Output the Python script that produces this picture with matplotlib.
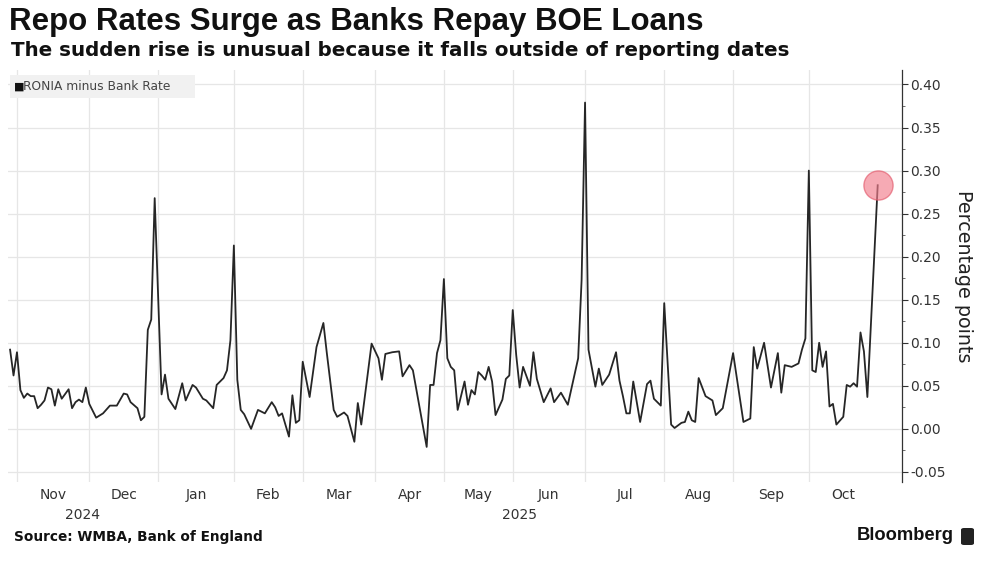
import numpy as np
import matplotlib
matplotlib.use("Agg")
import matplotlib.pyplot as plt
import matplotlib.transforms as mtransforms
from matplotlib.patches import FancyBboxPatch

# RONIA minus Bank Rate (percentage points), London business days
dates = [
    "2024-10-30", "2024-10-31",
    "2024-11-01", "2024-11-04", "2024-11-05", "2024-11-06", "2024-11-07", "2024-11-08",
    "2024-11-11", "2024-11-12", "2024-11-13", "2024-11-14", "2024-11-15", "2024-11-18",
    "2024-11-19", "2024-11-20", "2024-11-22", "2024-11-25", "2024-11-26", "2024-11-27",
    "2024-11-28", "2024-11-29",
    "2024-12-02", "2024-12-04", "2024-12-06", "2024-12-10", "2024-12-12", "2024-12-16",
    "2024-12-17", "2024-12-18", "2024-12-20", "2024-12-23", "2024-12-24", "2024-12-27",
    "2024-12-30", "2024-12-31",
    "2025-01-03", "2025-01-06", "2025-01-07", "2025-01-09", "2025-01-13", "2025-01-14",
    "2025-01-16", "2025-01-17", "2025-01-21", "2025-01-22", "2025-01-24", "2025-01-27",
    "2025-01-29", "2025-01-30", "2025-01-31",
    "2025-02-03", "2025-02-04", "2025-02-05", "2025-02-06", "2025-02-10", "2025-02-12",
    "2025-02-14", "2025-02-18", "2025-02-19", "2025-02-20", "2025-02-21", "2025-02-25",
    "2025-02-26", "2025-02-27", "2025-02-28",
    "2025-03-03", "2025-03-05", "2025-03-07", "2025-03-11", "2025-03-12", "2025-03-14",
    "2025-03-17", "2025-03-19", "2025-03-20", "2025-03-24", "2025-03-25", "2025-03-26",
    "2025-03-31",
    "2025-04-02", "2025-04-03", "2025-04-04", "2025-04-08", "2025-04-10", "2025-04-11",
    "2025-04-15", "2025-04-16", "2025-04-24", "2025-04-25", "2025-04-28", "2025-04-29",
    "2025-04-30",
    "2025-05-01", "2025-05-02", "2025-05-06", "2025-05-07", "2025-05-08", "2025-05-12",
    "2025-05-13", "2025-05-14", "2025-05-15", "2025-05-16", "2025-05-19", "2025-05-20",
    "2025-05-21", "2025-05-22", "2025-05-23", "2025-05-28", "2025-05-29", "2025-05-30",
    "2025-06-02", "2025-06-03", "2025-06-04", "2025-06-05", "2025-06-09", "2025-06-10",
    "2025-06-11", "2025-06-13", "2025-06-17", "2025-06-18", "2025-06-20", "2025-06-24",
    "2025-06-27", "2025-06-30",
    "2025-07-01", "2025-07-02", "2025-07-04", "2025-07-07", "2025-07-08", "2025-07-10",
    "2025-07-14", "2025-07-15", "2025-07-16", "2025-07-17", "2025-07-18", "2025-07-21",
    "2025-07-23", "2025-07-25", "2025-07-28", "2025-07-29", "2025-07-31",
    "2025-08-01", "2025-08-05", "2025-08-06", "2025-08-08", "2025-08-11", "2025-08-12",
    "2025-08-13", "2025-08-14", "2025-08-15", "2025-08-19", "2025-08-21", "2025-08-22",
    "2025-08-27",
    "2025-09-01", "2025-09-04", "2025-09-08", "2025-09-09", "2025-09-10", "2025-09-12",
    "2025-09-16", "2025-09-18", "2025-09-19", "2025-09-22", "2025-09-24", "2025-09-26",
    "2025-09-29", "2025-09-30",
    "2025-10-01", "2025-10-02", "2025-10-03", "2025-10-06", "2025-10-07", "2025-10-08",
    "2025-10-09", "2025-10-10", "2025-10-13", "2025-10-15", "2025-10-16", "2025-10-17",
    "2025-10-20", "2025-10-21", "2025-10-22", "2025-10-23", "2025-10-24", "2025-10-29",
]
spread = [
    0.092, 0.062,
    0.089, 0.045, 0.036, 0.041, 0.038, 0.038,
    0.024, 0.028, 0.033, 0.048, 0.046, 0.027,
    0.046, 0.035, 0.046, 0.024, 0.031, 0.034,
    0.031, 0.048,
    0.029, 0.013, 0.018, 0.027, 0.027, 0.041,
    0.040, 0.031, 0.024, 0.010, 0.014, 0.115,
    0.127, 0.268,
    0.040, 0.063, 0.035, 0.023, 0.053, 0.033,
    0.051, 0.048, 0.035, 0.033, 0.024, 0.051,
    0.059, 0.068, 0.103,
    0.213, 0.057, 0.022, 0.017, 0.000, 0.022,
    0.018, 0.031, 0.025, 0.015, 0.018, -0.009,
    0.039, 0.007, 0.010,
    0.078, 0.037, 0.095, 0.123, 0.088, 0.022,
    0.014, 0.019, 0.015, -0.015, 0.030, 0.005,
    0.099,
    0.082, 0.057, 0.087, 0.089, 0.090, 0.061,
    0.074, 0.068, -0.021, 0.051, 0.051, 0.088,
    0.103,
    0.174, 0.082, 0.072, 0.068, 0.022, 0.055,
    0.028, 0.045, 0.040, 0.066, 0.062, 0.057,
    0.072, 0.055, 0.016, 0.034, 0.058, 0.062,
    0.138, 0.086, 0.048, 0.072, 0.050, 0.089,
    0.058, 0.031, 0.047, 0.031, 0.042, 0.028,
    0.082, 0.173,
    0.379, 0.092, 0.049, 0.070, 0.051, 0.063,
    0.089, 0.056, 0.038, 0.018, 0.018, 0.055,
    0.008, 0.052, 0.056, 0.035, 0.027,
    0.146, 0.005, 0.001, 0.007, 0.008, 0.020,
    0.010, 0.008, 0.059, 0.038, 0.033, 0.016,
    0.024,
    0.088, 0.008, 0.012, 0.095, 0.070, 0.100,
    0.048, 0.088, 0.042, 0.074, 0.072, 0.076,
    0.092, 0.105,
    0.300, 0.068, 0.066, 0.100, 0.072, 0.090,
    0.026, 0.029, 0.005, 0.014, 0.051, 0.049,
    0.053, 0.049, 0.112, 0.090, 0.037, 0.283,
]
assert len(dates) == len(spread)

uk_holidays = ["2024-12-25", "2024-12-26", "2025-01-01", "2025-04-18", "2025-04-21",
               "2025-05-05", "2025-05-26", "2025-08-25"]
month_starts = ["2024-11-01", "2024-12-01", "2025-01-01", "2025-02-01", "2025-03-01",
                "2025-04-01", "2025-05-01", "2025-06-01", "2025-07-01", "2025-08-01",
                "2025-09-01", "2025-10-01"]
month_labels = ["Nov", "Dec", "Jan", "Feb", "Mar", "Apr", "May", "Jun",
                "Jul", "Aug", "Sep", "Oct"]
y_ticks = [-0.05, 0.0, 0.05, 0.10, 0.15, 0.20, 0.25, 0.30, 0.35, 0.40]

# business-day axis, like the terminal chart
origin = dates[0]
x = np.busday_count(origin, np.array(dates, dtype="datetime64[D]"), holidays=uk_holidays)
grid_x = np.busday_count(origin, np.array(month_starts, dtype="datetime64[D]"),
                         holidays=uk_holidays)
month_ends = np.append(grid_x[1:], x[-1])
label_x = (grid_x + month_ends) / 2

fig = plt.figure(figsize=(10.02, 5.68), dpi=100)
ax = fig.add_axes([0.008, 0.151, 0.892, 0.726])

for g in grid_x:
    ax.axvline(g, color="#e6e6e6", lw=0.9, zorder=0)
for t in y_ticks:
    ax.axhline(t, color="#e6e6e6", lw=0.9, zorder=0)

ax.plot(x, spread, color="#262626", lw=1.3, zorder=3)
ax.plot(x[-1], spread[-1], "o", ms=21, mfc="#f27d8c", mec="#e35a6c",
        mew=1.0, alpha=0.65, zorder=4)

ax.set_xlim(-0.6, 259)
ax.set_ylim(-0.062, 0.417)

# right y axis
ax.yaxis.tick_right()
ax.yaxis.set_label_position("right")
ax.set_yticks(y_ticks)
ax.set_yticks(np.arange(-0.05, 0.41, 0.025), minor=True)
ax.set_yticklabels([f"{t:.2f}" for t in y_ticks])
ax.tick_params(axis="y", which="major", length=4, width=0.8, colors="#333333",
               labelsize=10, pad=2)
ax.tick_params(axis="y", which="minor", length=2.5, width=0.6, colors="#555555")
ax.set_ylabel("Percentage points", rotation=270, fontsize=13.8,
              color="#222222", labelpad=20)

# month labels centred in each month
ax.set_xticks([])
ax.set_xticks(label_x, minor=True)
ax.set_xticklabels(month_labels, minor=True)
ax.tick_params(axis="x", which="minor", length=0, labelsize=10,
               colors="#333333", pad=4)

trans = mtransforms.blended_transform_factory(ax.transData, ax.transAxes)
years = np.array([d[:4] for d in dates])
for yr in ["2024", "2025"]:
    xs = x[years == yr]
    ax.text((xs[0] + xs[-1]) / 2, -0.063, yr, transform=trans,
            ha="center", va="top", fontsize=10, color="#333333")

for side in ["left", "top", "bottom"]:
    ax.spines[side].set_visible(False)
ax.spines["right"].set_color("#333333")
ax.spines["right"].set_linewidth(0.9)

# legend box
box = FancyBboxPatch((10 / 1002, 1 - 98 / 568), 185 / 1002, 23 / 568,
                     boxstyle="square,pad=0", transform=fig.transFigure,
                     facecolor="#f1f1f1", edgecolor="none", zorder=5)
fig.patches.append(box)
fig.text(14 / 1002, 1 - 87 / 568, "\u25a0", fontsize=8, color="#111111",
         va="center", ha="left", zorder=6)
fig.text(23 / 1002, 1 - 87 / 568, "RONIA minus Bank Rate", fontsize=8.8,
         color="#444444", va="center", ha="left", zorder=6)

# titles
fig.text(9 / 1002, 1 - 22 / 568, "Repo Rates Surge as Banks Repay BOE Loans",
         fontsize=22.5, fontweight="bold", color="#111111", va="center",
         ha="left", family="Liberation Sans")
fig.text(11 / 1002, 1 - 50 / 568,
         "The sudden rise is unusual because it falls outside of reporting dates",
         fontsize=14.3, fontweight="bold", color="#111111", va="center",
         ha="left", family="DejaVu Sans")

# footer
fig.text(14 / 1002, 1 - 537 / 568, "Source: WMBA, Bank of England", fontsize=9.8,
         fontweight="bold", color="#111111", va="center", ha="left",
         family="DejaVu Sans")
fig.text(954 / 1002, 1 - 536 / 568, "Bloomberg", fontsize=13.2, fontweight="bold",
         color="#111111", va="center", ha="right", family="Liberation Sans")
logo = FancyBboxPatch((961 / 1002, 1 - 545 / 568), 13 / 1002, 17 / 568,
                      boxstyle="round,pad=0,rounding_size=0.003",
                      transform=fig.transFigure, facecolor="#222222",
                      edgecolor="none")
fig.patches.append(logo)

fig.savefig("out.png", dpi=100)
